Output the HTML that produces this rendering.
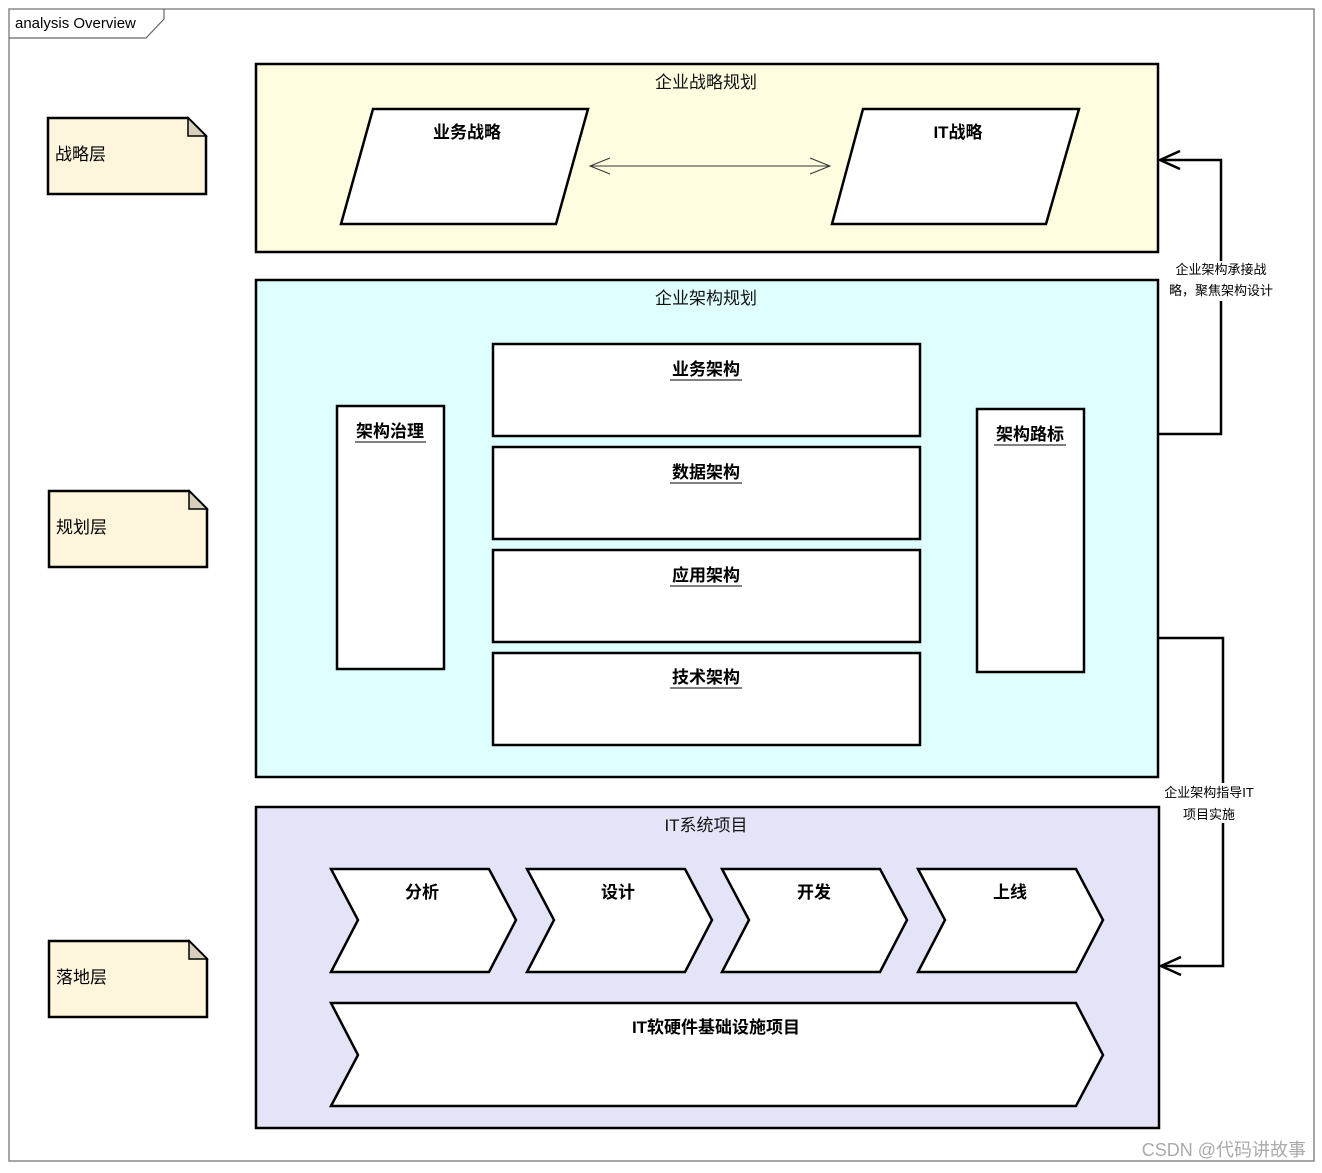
<!DOCTYPE html>
<html><head><meta charset="utf-8"><style>
body{margin:0;background:#fff}
svg text{font-family:"Liberation Sans","Noto Sans CJK SC",sans-serif}
</style></head><body>
<svg width="1322" height="1168" viewBox="0 0 1322 1168" xmlns="http://www.w3.org/2000/svg">
<rect x="9" y="9" width="1305" height="1152" fill="#fff" stroke="#888" stroke-width="1.5"/>
<path d="M9 38 H146 L164 19 V9" fill="none" stroke="#666" stroke-width="1.2"/>
<text x="15" y="28" font-size="15">analysis Overview</text>

<g stroke="#000" stroke-width="2.5">
<rect x="256" y="64" width="902" height="188" fill="#fffde0"/>
<rect x="256" y="280" width="902" height="497" fill="#dfffff"/>
<rect x="256" y="807" width="903" height="321" fill="#e4e4f8"/>
</g>
<g font-size="17" text-anchor="middle" fill="#111">
<text x="706" y="88">企业战略规划</text>
<text x="706" y="304">企业架构规划</text>
<text x="706" y="831">IT系统项目</text>
</g>

<!-- notes -->
<g stroke="#000" stroke-width="2.5" fill="#fdf5dc">
<path d="M48 118 H188 L206 136 V194 H48 Z"/>
<path d="M49 491 H189 L207 509 V567 H49 Z"/>
<path d="M49 941 H189 L207 959 V1017 H49 Z"/>
</g>
<g fill="#d8d0bc" stroke="#000" stroke-width="1.5">
<path d="M188 118 V136 H206 Z"/><path d="M189 491 V509 H207 Z"/><path d="M189 941 V959 H207 Z"/>
</g>
<g font-size="17">
<text x="55" y="160">战略层</text>
<text x="56" y="533">规划层</text>
<text x="56" y="983">落地层</text>
</g>

<!-- parallelograms -->
<g stroke="#000" stroke-width="2.5" fill="#fff">
<path d="M373 109 H588 L556 224 H341 Z"/>
<path d="M863 109 H1079 L1046 224 H832 Z"/>
</g>
<g font-size="17" font-weight="bold" text-anchor="middle">
<text x="467" y="138">业务战略</text>
<text x="958" y="138">IT战略</text>
</g>
<g stroke="#333" stroke-width="1" fill="none">
<line x1="590" y1="166" x2="830" y2="166"/>
<path d="M610 158 L590 166 L610 174"/><path d="M810 158 L830 166 L810 174"/>
</g>

<!-- architecture boxes -->
<g stroke="#000" stroke-width="2.5" fill="#fff">
<rect x="337" y="406" width="107" height="263"/>
<rect x="977" y="409" width="107" height="263"/>
<rect x="493" y="344" width="427" height="92"/>
<rect x="493" y="447" width="427" height="92"/>
<rect x="493" y="550" width="427" height="92"/>
<rect x="493" y="653" width="427" height="92"/>
</g>
<g font-size="17" font-weight="bold" text-anchor="middle">
<text x="390" y="437">架构治理</text>
<text x="1030" y="440">架构路标</text>
<text x="706" y="375">业务架构</text>
<text x="706" y="478">数据架构</text>
<text x="706" y="581">应用架构</text>
<text x="706" y="683">技术架构</text>
</g>
<g stroke="#000" stroke-width="1">
<line x1="355" y1="442" x2="426" y2="442"/><line x1="994" y1="445" x2="1066" y2="445"/>
<line x1="670" y1="380" x2="742" y2="380"/><line x1="670" y1="483" x2="742" y2="483"/>
<line x1="670" y1="586" x2="742" y2="586"/><line x1="670" y1="688" x2="742" y2="688"/>
</g>

<!-- chevrons -->
<g stroke="#000" stroke-width="2.5" fill="#fff">
<path d="M331 869 H489 L516 920 L489 972 H331 L358 920 Z"/>
<path d="M527 869 H685 L712 920 L685 972 H527 L554 920 Z"/>
<path d="M722 869 H880 L907 920 L880 972 H722 L749 920 Z"/>
<path d="M918 869 H1076 L1103 920 L1076 972 H918 L945 920 Z"/>
<path d="M331 1003 H1076 L1103 1055 L1076 1106 H331 L358 1055 Z"/>
</g>
<g font-size="17" font-weight="bold" text-anchor="middle">
<text x="422" y="898">分析</text>
<text x="618" y="898">设计</text>
<text x="814" y="898">开发</text>
<text x="1010" y="898">上线</text>
<text x="716" y="1033">IT软硬件基础设施项目</text>
</g>

<!-- connectors -->
<g stroke="#000" stroke-width="2.5" fill="none">
<path d="M1158 434 H1221 V160 H1160"/>
<path d="M1180 151 L1160 160 L1180 169"/>
<path d="M1158 638 H1223 V966 H1161"/>
<path d="M1181 957 L1161 966 L1181 975"/>
</g>
<rect x="1172" y="261" width="100" height="40" fill="#fff"/>
<rect x="1162" y="783" width="96" height="40" fill="#fff"/>
<g font-size="13" text-anchor="middle">
<text x="1221" y="274">企业架构承接战</text>
<text x="1221" y="295">略，聚焦架构设计</text>
<text x="1209" y="797">企业架构指导IT</text>
<text x="1209" y="819">项目实施</text>
</g>
<text x="1306" y="1156" font-size="18" fill="#aaa" text-anchor="end">CSDN @代码讲故事</text>
</svg>
</body></html>
